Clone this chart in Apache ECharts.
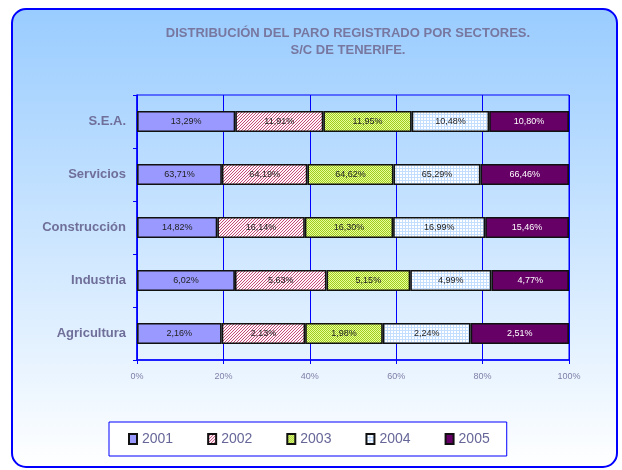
<!DOCTYPE html>
<html>
<head>
<meta charset="utf-8">
<script src="https://cdn.jsdelivr.net/npm/echarts@6/dist/echarts.min.js"></script>
<style>
  html, body { margin: 0; padding: 0; background: #fff; }
  #main { width: 622px; height: 470px; }
</style>
</head>
<body>
<div id="main"></div>
<script>
// sectores, de abajo a arriba
var sectores = ['Agricultura', 'Industria', 'Construcción', 'Servicios', 'S.E.A.'];
var years = ['2001', '2002', '2003', '2004', '2005'];

// % del paro de cada año por sector
var y2001 = [2.16, 6.02, 14.82, 63.71, 13.29];
var y2002 = [2.13, 5.63, 16.14, 64.19, 11.91];
var y2003 = [1.98, 5.15, 16.30, 64.62, 11.95];
var y2004 = [2.24, 4.99, 16.99, 65.29, 10.48];
var y2005 = [2.51, 4.77, 15.46, 66.46, 10.80];

var xTicks = [0, 20, 40, 60, 80, 100];

var raw = [y2001, y2002, y2003, y2004, y2005];

// tramas tipo excel
function pattern(size, draw) {
  var c = document.createElement('canvas');
  c.width = size; c.height = size;
  draw(c.getContext('2d'));
  return { image: c, repeat: 'repeat' };
}
var hatch = pattern(3, function (ctx) {
  ctx.fillStyle = '#fff4f8'; ctx.fillRect(0, 0, 3, 3);
  ctx.fillStyle = '#c44a78';
  for (var i = 0; i < 3; i++) ctx.fillRect(2 - i, i, 1, 1);
});
var checker = pattern(2, function (ctx) {
  ctx.fillStyle = '#e8ff99'; ctx.fillRect(0, 0, 2, 2);
  ctx.fillStyle = '#a0cc22'; ctx.fillRect(0, 0, 1, 1); ctx.fillRect(1, 1, 1, 1);
});
var grid = pattern(3, function (ctx) {
  ctx.fillStyle = '#ffffff'; ctx.fillRect(0, 0, 3, 3);
  ctx.fillStyle = '#c4deff'; ctx.fillRect(0, 0, 3, 1); ctx.fillRect(0, 0, 1, 3);
});
var colors = ['#9999ff', hatch, checker, grid, '#660066'];

// totales por sector para apilar al 100%
var totals = sectores.map(function (s, i) {
  return raw.reduce(function (a, arr) { return a + arr[i]; }, 0);
});

var series = years.map(function (y, k) {
  return {
    name: y,
    type: 'bar',
    stack: 'total',
    barWidth: 21,
    data: raw[k].map(function (v, i) { return v / totals[i] * 100; }),
    itemStyle: { color: colors[k], borderColor: '#111', borderWidth: 1.6 },
    label: {
      show: true,
      position: 'inside',
      fontSize: 9,
      fontFamily: 'Arial, Liberation Sans, sans-serif',
      color: k === 4 ? '#ffffff' : '#222222',
      formatter: function (p) {
        return raw[k][p.dataIndex].toFixed(2).replace('.', ',') + '%';
      }
    }
  };
});

var chart = echarts.init(document.getElementById('main'));
var option = {
  animation: false,
  graphic: [{
    type: 'rect',
    z: -10,
    silent: true,
    shape: { x: 12, y: 9, width: 605, height: 458, r: 14 },
    style: {
      fill: new echarts.graphic.LinearGradient(0, 0, 0, 1, [
        { offset: 0, color: '#99ccff' },
        { offset: 1, color: '#ffffff' }
      ]),
      stroke: '#0000ff',
      lineWidth: 2
    }
  }],
  title: {
    text: 'DISTRIBUCIÓN DEL PARO REGISTRADO POR SECTORES.\nS/C DE TENERIFE.',
    left: 343,
    textAlign: 'center',
    top: 20,
    textStyle: {
      fontFamily: 'Arial, Liberation Sans, sans-serif',
      fontSize: 13,
      fontWeight: 'bold',
      color: '#7777a0',
      lineHeight: 17
    }
  },
  legend: {
    data: years,
    left: 109,
    top: 422,
    width: 390,
    backgroundColor: '#ffffff',
    borderColor: '#0000ff',
    borderWidth: 1,
    padding: [10, 17, 10, 19],
    itemGap: 34,
    itemWidth: 8,
    itemHeight: 10,
    icon: 'rect',
    textStyle: {
      fontFamily: 'Arial, Liberation Sans, sans-serif',
      fontSize: 14,
      color: '#666699'
    }
  },
  grid: {
    left: 137,
    right: 53,
    top: 95,
    bottom: 110,
    show: true,
    borderColor: '#0000ff',
    borderWidth: 1,
    backgroundColor: 'transparent'
  },
  xAxis: {
    type: 'value',
    min: xTicks[0],
    max: xTicks[xTicks.length - 1],
    interval: 20,
    axisLine: { show: true, lineStyle: { color: '#0000ff', width: 1.5 } },
    axisTick: { show: true, length: 4, lineStyle: { color: '#0000ff' } },
    splitLine: { show: true, lineStyle: { color: '#0000ff', width: 1 } },
    axisLabel: {
      margin: 12,
      fontSize: 9,
      fontFamily: 'Arial, Liberation Sans, sans-serif',
      color: '#8080a8',
      formatter: '{value}%'
    }
  },
  yAxis: {
    type: 'category',
    data: sectores,
    axisLine: { show: true, lineStyle: { color: '#0000ff', width: 1.5 } },
    axisTick: { show: true, length: 4, lineStyle: { color: '#0000ff' } },
    axisLabel: {
      margin: 11,
      fontSize: 13,
      fontWeight: 'bold',
      fontFamily: 'Arial, Liberation Sans, sans-serif',
      color: '#6f6f9a'
    }
  },
  series: series
};
chart.setOption(option);
</script>
</body>
</html>
